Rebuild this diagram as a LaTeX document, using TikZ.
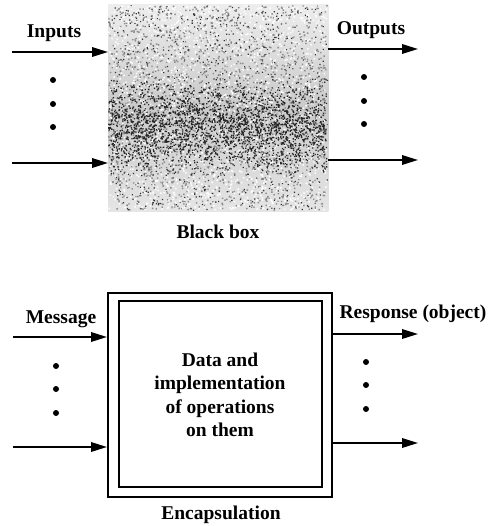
\documentclass[tikz,border=0pt]{standalone}
\usepackage{fontspec}
\newfontfamily\lblfont{Liberation Serif}
\usetikzlibrary{arrows.meta}
\begin{document}
\begin{tikzpicture}[x=1pt,y=-1pt,
  lbl/.style={font=\lblfont\bfseries\fontsize{19.5}{23.5}\selectfont, inner sep=0pt, anchor=base},
  arr/.style={line width=1.8pt, -{Triangle[length=16pt,width=9.5pt]}},
  vdot/.style={fill=black},
  frame/.style={draw, line width=2pt, inner sep=0pt}]
\useasboundingbox (0,0) rectangle (491,526);

% ---------- black box ----------
\node[minimum width=220pt, minimum height=206pt, inner sep=0pt, anchor=north west] (bb) at (108,5) {};
\shade[top color=gray!14, bottom color=gray!20, middle color=gray!42]
  (bb.north west) rectangle (bb.south east);
\pgfmathsetseed{7}
% light grain
\fill[white] \foreach \i in {1,...,1800} {
  ({108+218*rnd},{5+204*rnd}) rectangle ++(1.5,1.5) };
% mid grey grain over the whole box
\fill[black!45] \foreach \i in {1,...,1800} {
  ({108+218*rnd},{5+204*rnd}) rectangle ++(1.4,1.4) };
% dark grain over the whole box
\fill[black!80] \foreach \i in {1,...,800} {
  ({108+219*rnd},{5+205*rnd}) rectangle ++(1.2,1.2) };
% dark grain, concentrated in the middle band
\fill[black!85] \foreach \i in {1,...,2400} {
  ({108+218*rnd},{126+50*(rnd+rnd-1)}) rectangle ++(1.3,1.3) };

\coordinate (i1) at (12,52);
\coordinate (i2) at (12,163);
\coordinate (o1) at (418,49);
\coordinate (o2) at (418,160);
\draw[arr] (i1) -- (i1 -| bb.west);
\draw[arr] (i2) -- (i2 -| bb.west);
\draw[arr] (o1 -| bb.east) -- (o1);
\draw[arr] (o2 -| bb.east) -- (o2);

\node[lbl] (inl) at (54,38) {Inputs};
\node[lbl] (outl) at (371,35) {Outputs};
\node[lbl] (bbl) at (218,238) {Black box};

\foreach \y in {80,104,127} \fill[vdot] (53,\y) circle (3pt);
\foreach \y in {77,101,124} \fill[vdot] (364,\y) circle (3pt);

% ---------- encapsulation ----------
\node[frame, minimum width=224pt, minimum height=204pt, anchor=north west] (enc) at (107,292) {};
\node[frame, line width=2.3pt, minimum width=203pt, minimum height=186pt] (core) at (220.5,394) {};
\node[lbl, anchor=center, align=center] (coretext) at (220,395)
  {Data and\\implementation\\of operations\\on them};

\coordinate (m1) at (13,337);
\coordinate (m2) at (13,447);
\coordinate (r1) at (418,334);
\coordinate (r2) at (418,443);
\draw[arr] (m1) -- (m1 -| enc.west);
\draw[arr] (m2) -- (m2 -| enc.west);
\draw[arr] (r1 -| enc.east) -- (r1);
\draw[arr] (r2 -| enc.east) -- (r2);

\node[lbl] (msgl) at (61,323) {Message};
\node[lbl] (resl) at (413,318) {Response (object)};
\node[lbl] (encl) at (221,519) {Encapsulation};

\foreach \y in {366,389,413} \fill[vdot] (56,\y) circle (3pt);
\foreach \y in {362,385,409} \fill[vdot] (366,\y) circle (3pt);
\end{tikzpicture}
\end{document}
